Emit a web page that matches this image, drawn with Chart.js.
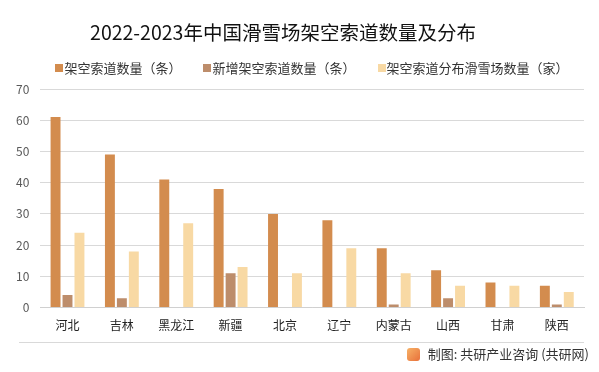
<!DOCTYPE html>
<html>
<head>
<meta charset="utf-8">
<script src="https://cdn.jsdelivr.net/npm/chart.js@4"></script>
<style>
  body { margin: 0; background: #fff; }
  #wrap { position: relative; width: 599px; height: 372px; font-family: "Noto Sans CJK SC", sans-serif; }
  canvas { position: absolute; left: 0; top: 0; }
  #title {
    position: absolute; left: 0; width: 566px; top: 19px; text-align: center;
    font-size: 19.5px; color: #111; line-height: 26px; white-space: nowrap;
  }
  #legend {
    position: absolute; left: 0; width: 624px; top: 59px; text-align: center;
    font-size: 13px; color: #333; line-height: 18px; white-space: nowrap;
  }
  #legend .item { display: inline-block; margin: 0 11px; }
  #legend .box { display: inline-block; width: 8px; height: 8px; margin-right: 1px; vertical-align: 1px; }
  #foot {
    position: absolute; right: 10px; top: 345px;
    font-size: 13px; color: #333; line-height: 18px;
  }
  #foot span.logo {
    display: inline-block; width: 13px; height: 13px; border-radius: 3px;
    background: linear-gradient(135deg, #f7b267, #e8703a); vertical-align: -2px; margin-right: 8px;
  }
  #sep { position: absolute; left: 19px; width: 565px; top: 342px; height: 1px; background: #d9d9d9; }
</style>
</head>
<body>
<div id="wrap">
  <canvas id="myChart" width="599" height="372"></canvas>
  <div id="title">2022-2023年中国滑雪场架空索道数量及分布</div>
  <div id="legend"></div>
  <div id="sep"></div>
  <div id="foot"><span class="logo"></span>制图: 共研产业咨询 (共研网)</div>
</div>
<script>
const provinces = ["河北", "吉林", "黑龙江", "新疆", "北京", "辽宁", "内蒙古", "山西", "甘肃", "陕西"];
const ropeways = [61, 49, 41, 38, 30, 28, 19, 12, 8, 7];
const newRopeways = [4, 3, 0, 11, 0, 0, 1, 3, 0, 1];
const resorts = [24, 18, 27, 13, 11, 19, 11, 7, 7, 5];
const seriesNames = ["架空索道数量（条）", "新增架空索道数量（条）", "架空索道分布滑雪场数量（家）"];
const seriesColors = ["#D38C4E", "#BD8D6B", "#F8D9A4"];
const yTicks = [0, 10, 20, 30, 40, 50, 60, 70];

const font = "'Noto Sans CJK SC', 'Noto Sans', sans-serif";

// legend drawn as html so the spacing can follow the picture
const legend = document.getElementById("legend");
seriesNames.forEach((name, i) => {
    const item = document.createElement("span");
    item.className = "item";
    item.innerHTML = '<span class="box" style="background:' + seriesColors[i] + '"></span>' + name;
    legend.appendChild(item);
});

const ctx = document.getElementById("myChart");

new Chart(ctx, {
    type: "bar",
    data: {
        labels: provinces,
        datasets: [
            { label: seriesNames[0], data: ropeways, backgroundColor: seriesColors[0] },
            { label: seriesNames[1], data: newRopeways, backgroundColor: seriesColors[1] },
            { label: seriesNames[2], data: resorts, backgroundColor: seriesColors[2] }
        ]
    },
    options: {
        responsive: false,
        animation: false,
        layout: { padding: { left: 5, right: 15, top: 89, bottom: 28 } },
        datasets: { bar: { categoryPercentage: 0.66, barPercentage: 0.83 } },
        plugins: {
            title: { display: false },
            legend: { display: false },
            tooltip: { enabled: false }
        },
        scales: {
            x: {
                grid: { display: false, drawTicks: false },
                border: { color: "#d0d0d0" },
                ticks: { color: "#222", font: { family: font, size: 12 }, padding: 11 }
            },
            y: {
                min: 0, max: 70,
                afterBuildTicks: (axis) => { axis.ticks = yTicks.map(v => ({ value: v })); },
                grid: { color: "#d9d9d9", drawTicks: false },
                border: { display: false },
                ticks: { color: "#595959", font: { family: font, size: 12 }, padding: 11 }
            }
        }
    }
});
</script>
</body>
</html>
